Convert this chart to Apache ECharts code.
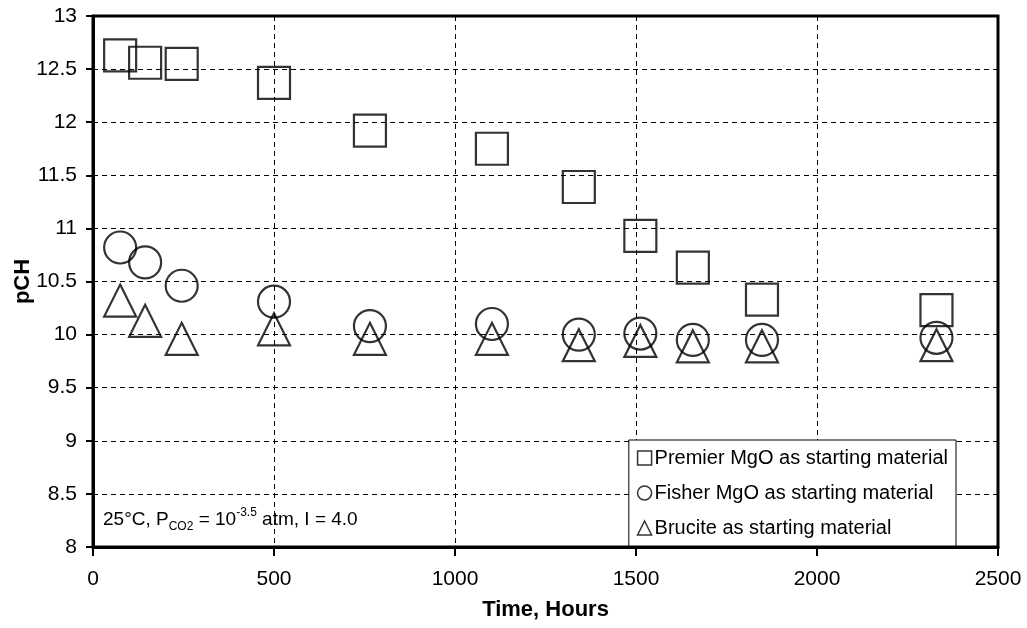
<!DOCTYPE html>
<html>
<head>
	<meta charset="UTF-8">
	<title>pCH vs time</title>
	<style>
		html, body { margin: 0; padding: 0; background: #fff; }
	</style>
</head>
<body>
	<div id="main" style="width:1027px;height:628px"></div>
</body>
</html>
<script src="https://cdn.jsdelivr.net/npm/echarts@6/dist/echarts.min.js"></script>
<script type="text/javascript">
	// sampling times, hours
	var hours = [75, 144, 245, 500, 765, 1102, 1342, 1512, 1657, 1848, 2330];
	// pCH readings for each starting material
	var premier = [12.63, 12.56, 12.55, 12.37, 11.92, 11.75, 11.39, 10.93, 10.63, 10.33, 10.23];
	var fisher = [10.82, 10.68, 10.46, 10.31, 10.08, 10.10, 10.00, 10.01, 9.95, 9.95, 9.97];
	var brucite = [10.32, 10.13, 9.96, 10.05, 9.96, 9.96, 9.90, 9.94, 9.89, 9.89, 9.90];

	var seriesNames = ['Premier MgO as starting material', 'Fisher MgO as starting material', 'Brucite as starting material'];
	var xTicks = { min: 0, max: 2500, interval: 500 };
	var yTicks = { min: 8, max: 13, interval: 0.5 };

	function pairs(ys) {
		return hours.map(function(h, i) { return [h, ys[i]]; });
	}

	var font = '"Liberation Sans", Arial, sans-serif';
	var markStyle = { color: 'rgba(0,0,0,0)', borderColor: '#000', borderWidth: 2.2 };

	var myCharts = echarts.init(document.querySelector('#main'));

	option = {
		animation: false,
		backgroundColor: '#fff',
		textStyle: { fontFamily: font, color: '#000' },
		grid: {
			left: 93, right: 29, top: 16, bottom: 81,
			outerBoundsMode: 'none',
			containLabel: false,
			show: true, borderColor: '#000', borderWidth: 3, backgroundColor: 'transparent'
		},
		legend: {
			orient: 'vertical',
			right: 71, top: 440,
			padding: [8, 8, 8, 8],
			itemGap: 15,
			itemWidth: 14, itemHeight: 14,
			backgroundColor: '#fff',
			borderColor: '#000', borderWidth: 1,
			borderRadius: 0,
			itemStyle: { color: 'rgba(0,0,0,0)', borderColor: '#000', borderWidth: 1.5 },
			textStyle: { fontSize: 20, color: '#000', fontFamily: font, padding: [0, 0, 0, -2] },
			data: seriesNames
		},
		xAxis: {
			type: 'value',
			min: xTicks.min, max: xTicks.max, interval: xTicks.interval,
			name: 'Time, Hours',
			nameLocation: 'middle',
			nameGap: 52,
			nameMoveOverlap: false,
			nameTextStyle: { fontSize: 22, fontWeight: 'bold', color: '#000' },
			axisLine: { show: true, lineStyle: { color: '#000', width: 3 } },
			axisTick: { show: true, inside: false, length: 9, lineStyle: { color: '#000', width: 2 } },
			axisLabel: {
				fontSize: 21, color: '#000', margin: 22,
				formatter: function(v) { return String(v); }
			},
			splitLine: { show: true, lineStyle: { color: '#000', width: 1, type: [5, 4] } }
		},
		yAxis: {
			type: 'value',
			min: yTicks.min, max: yTicks.max, interval: yTicks.interval,
			name: 'pCH',
			nameLocation: 'middle',
			nameGap: 59,
			nameMoveOverlap: false,
			nameTextStyle: { fontSize: 22, fontWeight: 'bold', color: '#000' },
			axisLine: { show: true, lineStyle: { color: '#000', width: 3 } },
			axisTick: { show: true, inside: false, length: 7, lineStyle: { color: '#000', width: 2 } },
			axisLabel: {
				fontSize: 21, color: '#000', margin: 16,
				formatter: function(v) { return String(v); }
			},
			splitLine: { show: true, lineStyle: { color: '#000', width: 1, type: [5, 4] } }
		},
		graphic: [{
			type: 'text',
			left: 103, top: 507,
			style: {
				text: '{n|25°C, P}{sub|CO2}{n| = 10}{sup|-3.5}{n| atm, I = 4.0}',
				fill: '#000',
				fontFamily: font,
				rich: {
					n: { fontSize: 19, lineHeight: 26, fontFamily: font },
					sub: { fontSize: 12, lineHeight: 13, verticalAlign: 'bottom', fontFamily: font },
					sup: { fontSize: 12, lineHeight: 13, verticalAlign: 'top', fontFamily: font }
				}
			}
		}],
		series: [{
			name: seriesNames[0],
			type: 'scatter',
			symbol: 'rect',
			symbolSize: 32,
			itemStyle: markStyle,
			data: pairs(premier)
		}, {
			name: seriesNames[1],
			type: 'scatter',
			symbol: 'circle',
			symbolSize: 32,
			itemStyle: markStyle,
			data: pairs(fisher)
		}, {
			name: seriesNames[2],
			type: 'scatter',
			symbol: 'triangle',
			symbolSize: 32,
			itemStyle: markStyle,
			data: pairs(brucite)
		}]
	};

	myCharts.setOption(option);
</script>
